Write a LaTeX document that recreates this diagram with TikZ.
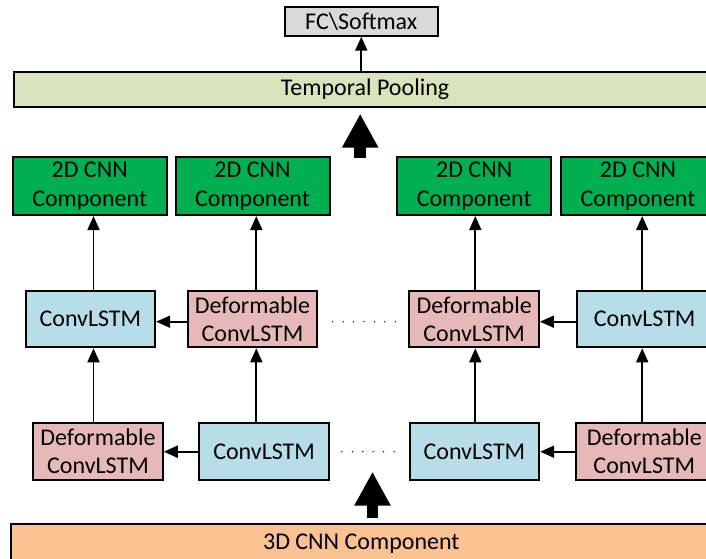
\documentclass[tikz,border=0pt]{standalone}
\usepackage{fontspec}
\setmainfont{Carlito}
\usetikzlibrary{arrows.meta}
\definecolor{fcgray}{HTML}{D9D9D9}
\definecolor{poolgreen}{HTML}{D8E4BC}
\definecolor{cnngreen}{HTML}{00B050}
\definecolor{lstmblue}{HTML}{B7DEE8}
\definecolor{defpink}{HTML}{E6B9B8}
\definecolor{peach}{HTML}{FAC191}
\begin{document}
\begin{tikzpicture}[x=1pt,y=-1pt,
  box/.style={draw=black, line width=2pt, inner sep=0pt, align=center,
    font=\fontsize{24}{27.5}\selectfont},
  lstm/.style={box, fill=lstmblue, minimum width=129.5pt, minimum height=56.6pt},
  defo/.style={box, fill=defpink, minimum width=129.5pt, minimum height=57pt},
  cnn/.style={box, fill=cnngreen, minimum width=154pt, minimum height=57.7pt,
    font=\fontsize{24}{29.5}\selectfont},
  link/.style={line width=1.8pt, -{Triangle[length=14pt,width=12pt]}},
  bigarrow/.style={line width=11.6pt, -{Triangle[length=34pt,width=34pt]}},
  dots/.style={line width=1.5pt, dash pattern=on 0pt off 10.45pt, line cap=round}]
\useasboundingbox (0,0) rectangle (706,558);
\clip (0,0) rectangle (706,558);

% top
\node[box, fill=fcgray, minimum width=153.4pt, minimum height=28.4pt] (fc) at (361.3,21.5) {FC\textbackslash Softmax};
\node[box, fill=poolgreen, minimum width=703pt, minimum height=35.6pt] (tp) at (365,89.5) {Temporal Pooling};

% 2D CNN components
\node[cnn] (g1) at (89.7,186.2) {2D CNN\\Component};
\node[cnn] (g2) at (252.5,186.2) {2D CNN\\Component};
\node[cnn] (g3) at (474.2,186.2) {2D CNN\\Component};
\node[cnn] (g4) at (638,186.2) {2D CNN\\Component};

% row 1
\node[lstm] (r1c1) at (90.4,319) {ConvLSTM};
\node[defo, minimum height=56.6pt] (r1c2) at (252.5,319) {Deformable\\ConvLSTM};
\node[defo, minimum height=56.6pt] (r1c3) at (474.2,319) {Deformable\\ConvLSTM};
\node[lstm, minimum width=136pt] (r1c4) at (644.7,319) {ConvLSTM};

% row 2
\node[defo] (r2c1) at (98,451.4) {Deformable\\ConvLSTM};
\node[lstm, minimum height=57pt] (r2c2) at (264.1,451.4) {ConvLSTM};
\node[lstm, minimum height=57pt] (r2c3) at (474.4,451.4) {ConvLSTM};
\node[defo, minimum width=136pt] (r2c4) at (644.3,451.4) {Deformable\\ConvLSTM};

% bottom
\node[box, fill=peach, minimum width=700pt, minimum height=40pt] (cnn3d) at (361.3,544) {3D CNN Component};

% column / row guide coordinates
\coordinate (k1) at (93.5,0);
\coordinate (k2) at (256.3,0);
\coordinate (k3) at (475.3,0);
\coordinate (k4) at (642.2,0);
\coordinate (hy1) at (0,321.7);
\coordinate (hy2) at (0,451.7);
\coordinate (ua) at (360.2,158);
\coordinate (la) at (372.5,518.3);
\coordinate (lat) at (372.5,471.7);

% FC arrow
\draw[link] (tp.north -| fc.south) -- (fc.south);

% big arrows
\draw[bigarrow] (ua) -- ([yshift=-5.4pt]tp.south -| ua);
\draw[bigarrow] (la) -- (lat);

% vertical arrows row1 -> 2D CNN
\draw[link] (r1c1.north -| k1) -- (g1.south -| k1);
\draw[link] (r1c2.north -| k2) -- (g2.south -| k2);
\draw[link] (r1c3.north -| k3) -- (g3.south -| k3);
\draw[link] (r1c4.north -| k4) -- (g4.south -| k4);

% vertical arrows row2 -> row1
\draw[link] (r2c1.north -| k1) -- (r1c1.south -| k1);
\draw[link] (r2c2.north -| k2) -- (r1c2.south -| k2);
\draw[link] (r2c3.north -| k3) -- (r1c3.south -| k3);
\draw[link] (r2c4.north -| k4) -- (r1c4.south -| k4);

% horizontal arrows
\draw[link] (r1c2.west |- hy1) -- (r1c1.east |- hy1);
\draw[link] (r1c4.west |- hy1) -- (r1c3.east |- hy1);
\draw[link] (r2c2.west |- hy2) -- (r2c1.east |- hy2);
\draw[link] (r2c4.west |- hy2) -- (r2c3.east |- hy2);

% dotted continuations
\draw[dots, shorten <=14.4pt, shorten >=4.3pt] (r1c2.east |- hy1) -- (r1c3.west |- hy1);
\draw[dots, shorten <=12pt, shorten >=6.4pt] (r2c2.east |- hy2) -- (r2c3.west |- hy2);
\end{tikzpicture}
\end{document}
